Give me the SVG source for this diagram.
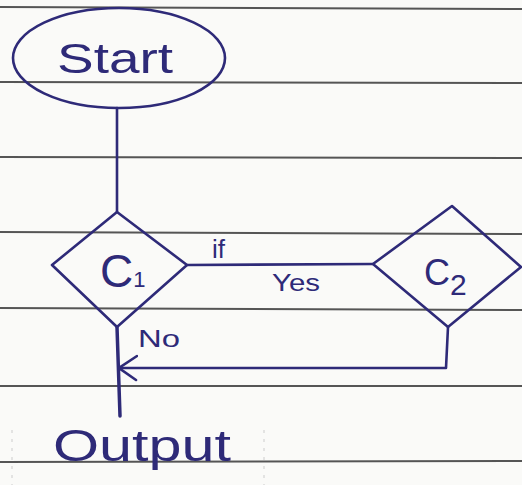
<svg xmlns="http://www.w3.org/2000/svg" width="522" height="485" viewBox="0 0 522 485">
<defs>
<style>
.paper{fill:#fafaf8}
.rule{stroke:#555;stroke-width:2;fill:none}
.margin{stroke:#ccc;stroke-width:1;stroke-dasharray:3 6;fill:none}
.ink{stroke:#2e2a78;stroke-width:2.6;fill:none;stroke-linecap:round;stroke-linejoin:round}
.shape{stroke:#2e2a78;stroke-width:2.6;fill:none;stroke-linejoin:round}
.t{fill:#2e2a78;font-family:"Liberation Sans",Arial,sans-serif}
</style>
<marker id="open" viewBox="0 0 20 30" refX="19" refY="15" markerWidth="20" markerHeight="30" markerUnits="userSpaceOnUse" orient="auto">
<path d="M2 3 L19 15 L1 27" stroke="#2e2a78" stroke-width="2.6" fill="none" stroke-linecap="round"/>
</marker>
</defs>
<rect class="paper" x="0" y="0" width="522" height="485"/>
<g id="ruled-lines">
<line class="rule" x1="0" y1="7" x2="522" y2="9"/>
<line class="rule" x1="0" y1="82" x2="522" y2="83"/>
<line class="rule" x1="0" y1="157" x2="522" y2="158"/>
<line class="rule" x1="0" y1="232" x2="522" y2="234"/>
<line class="rule" x1="0" y1="308" x2="522" y2="310"/>
<line class="rule" x1="0" y1="386" x2="522" y2="386"/>
<line class="rule" x1="0" y1="462" x2="522" y2="461"/>
<line class="margin" x1="12" y1="430" x2="12" y2="485"/>
<line class="margin" x1="264" y1="430" x2="264" y2="485"/>
</g>
<g id="connectors">
<line class="ink" x1="117" y1="108" x2="117" y2="212"/>
<line class="ink" x1="187" y1="265" x2="373" y2="264"/>
<path class="ink" d="M448 327 L446 368 L119 368" marker-end="url(#open)"/>
<line class="ink" x1="117" y1="327" x2="120" y2="416" style="stroke-width:3.5"/>
</g>
<g id="start">
<ellipse class="shape" cx="119" cy="58" rx="106" ry="50"/>
<text class="t" x="57" y="73" font-size="42" textLength="116" lengthAdjust="spacingAndGlyphs">Start</text>
</g>
<g id="c1">
<polygon class="shape" points="117,212 187,265 117,327 52,265"/>
<text class="t" x="100" y="287" font-size="46">C<tspan font-size="22">1</tspan></text>
</g>
<g id="c2">
<polygon class="shape" points="452,206 521,267 448,327 373,264"/>
<text class="t" x="424" y="285" font-size="36">C<tspan font-size="30" dy="10">2</tspan></text>
</g>
<g id="labels">
<text class="t" x="212" y="258" font-size="26">if</text>
<text class="t" x="272" y="291" font-size="24" textLength="48" lengthAdjust="spacingAndGlyphs">Yes</text>
<text class="t" x="138" y="347" font-size="24" textLength="42" lengthAdjust="spacingAndGlyphs">No</text>
</g>
<g id="output">
<text class="t" x="53" y="461" font-size="44" textLength="178" lengthAdjust="spacingAndGlyphs">Output</text>
</g>
</svg>
